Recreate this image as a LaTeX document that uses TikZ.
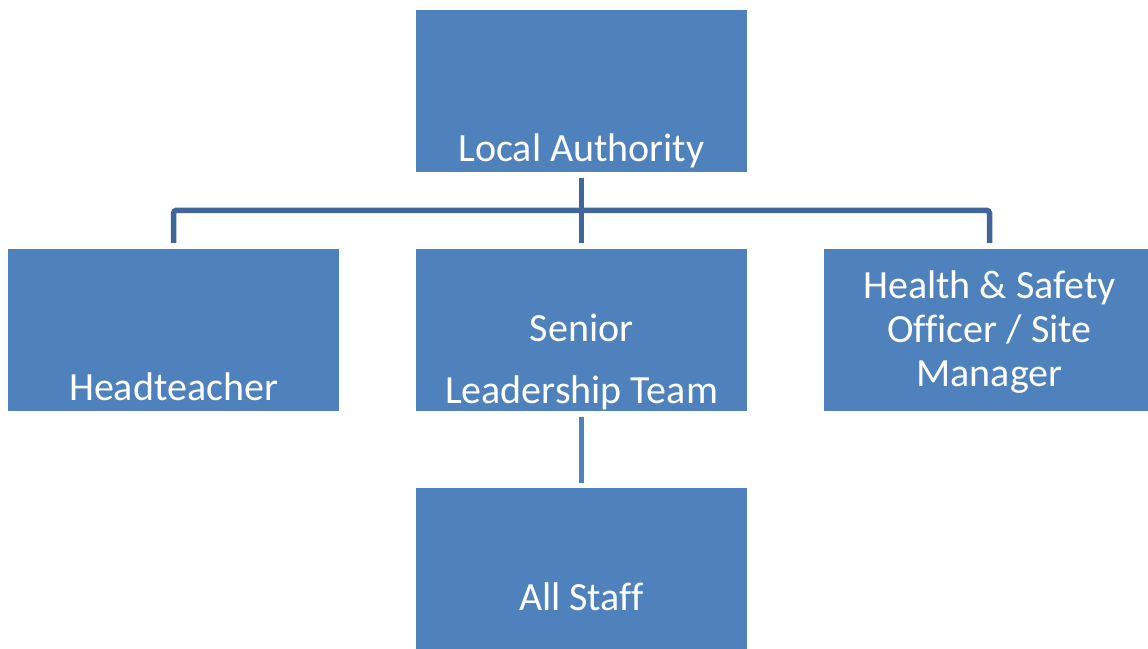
\documentclass[tikz,border=0pt]{standalone}
\usepackage{fontspec}
\setmainfont{Carlito}[Ligatures=NoCommon]
\usetikzlibrary{positioning}
\definecolor{boxblue}{HTML}{4F81BD}
\definecolor{linkblue}{HTML}{41679A}
\tikzset{
  orgbox/.style={fill=boxblue, draw=none, minimum width=331pt, minimum height=162pt, inner sep=0pt},
  orgtext/.style={text=white, align=center, inner sep=0pt, font=\fontsize{40}{44}\selectfont},
  link/.style={draw=linkblue, line width=5.5pt},
  sublink/.style={draw=boxblue, line width=5pt}
}
\begin{document}
\begin{tikzpicture}[x=1pt,y=-1pt]
	\useasboundingbox (0,0) rectangle (1148,648);
	% boxes
	\node[orgbox] (la) at (581.5,91) {};
	\node[orgbox] (head) at (173.5,330) {};
	\node[orgbox] (slt) at (581.5,330) {};
	\node[orgbox] (hs) at (989.5,330) {};
	\node[orgbox] (all) at (581.5,569) {};
	% texts
	\node[orgtext, anchor=base] (latext) at ([yshift=-70pt]la.center) {Local Authority};
	\node[orgtext, anchor=base] (headtext) at ([yshift=-70pt]head.center) {Headteacher};
	\node[orgtext] (slttext) at ([yshift=-32pt]slt.center) {Senior\\[18pt]Leadership Team};
	\node[orgtext] (hstext) at ([yshift=-2.5pt]hs.center) {Health \& Safety\\Officer / Site\\Manager};
	\node[orgtext, anchor=base] (alltext) at ([yshift=-41pt]all.center) {All Staff};
	% connectors
	\draw[link] ([yshift=-6pt]la.south) -- ([yshift=6pt]slt.north);
	\draw[link, rounded corners=3pt] ([yshift=6pt]head.north) |- ([yshift=38.5pt]slt.north) -| ([yshift=6pt]hs.north);
	\draw[sublink] ([yshift=-6pt]slt.south) -- ([yshift=5pt]all.north);
\end{tikzpicture}
\end{document}
